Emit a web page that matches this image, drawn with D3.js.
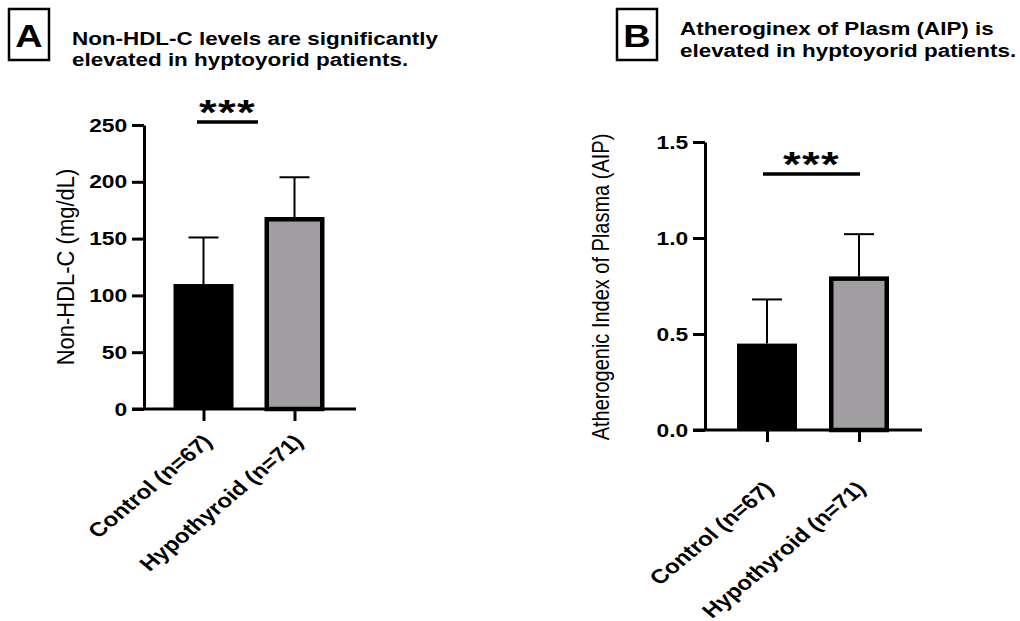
<!DOCTYPE html>
<html>
<head>
<meta charset="utf-8">
<script src="https://cdn.jsdelivr.net/npm/d3@7"></script>
<style>
  body { margin: 0; background: #fff; }
  text { font-family: "Liberation Sans", Arial, sans-serif; fill: #000; }
</style>
</head>
<body>
<script>
// groups and values (mean + SD)
var groups = ["Control (n=67)", "Hypothyroid (n=71)"];
var nonHdlMean = [110, 169];
var nonHdlSd = [41, 35];
var aipMean = [0.45, 0.80];
var aipSd = [0.23, 0.22];
var nonHdlTicks = [0, 50, 100, 150, 200, 250];
var aipTicks = [0, 0.5, 1.0, 1.5];
var barFills = ["#000000", "#a19ea2"];
var titleA = ["Non-HDL-C levels are significantly", "elevated in hyptoyorid patients."];
var titleB = ["Atheroginex of Plasm (AIP) is", "elevated in hyptoyorid patients."];
var sigLabel = "***";

// the picture is a bit stretched sideways, so text is too
var sx = 1.2;

var svg = d3.select("body").append("svg")
    .attr("width", 1020)
    .attr("height", 621);

function drawPanel(p) {
  var g = svg.append("g");

  // letter box
  g.append("rect")
      .attr("x", p.box[0]).attr("y", 9)
      .attr("width", 40).attr("height", 51)
      .attr("fill", "none").attr("stroke", "#000").attr("stroke-width", 2.5);
  g.append("text")
      .attr("transform", "translate(" + (p.box[0] + 20) + ",47) scale(1.22,1)")
      .attr("text-anchor", "middle")
      .style("font-size", "31px").style("font-weight", "bold")
      .text(p.letter);

  // two line title
  p.title.forEach(function(t, i) {
    g.append("text")
        .attr("transform", "translate(" + p.titleX + "," + p.titleY[i] + ") scale(1.18,1)")
        .style("font-size", "19px").style("font-weight", "bold")
        .text(t);
  });

  var y = d3.scaleLinear().domain(p.domain).range([p.y0, p.y1]);
  var x = d3.scalePoint().domain(groups).range(p.xr);

  // y axis
  var yAxis = g.append("g")
      .attr("transform", "translate(" + p.axisX + ",0)")
      .call(d3.axisLeft(y).tickValues(p.ticks).tickSize(12).tickSizeOuter(0)
            .tickPadding(2).tickFormat(p.fmt));
  yAxis.select(".domain").attr("stroke-width", 3);
  yAxis.selectAll(".tick line").attr("stroke-width", 3);
  yAxis.selectAll(".tick text")
      .attr("transform", "scale(" + sx + ",1)")
      .style("font-size", "19px").style("font-weight", "bold")
      .style("font-family", "Liberation Sans, Arial, sans-serif");

  // x axis: base line plus the category ticks
  g.append("line")
      .attr("x1", p.axisX - 12).attr("x2", p.xEnd)
      .attr("y1", y(0)).attr("y2", y(0))
      .attr("stroke", "#000").attr("stroke-width", 3);

  var data = groups.map(function(d, i) {
    return {name: d, mean: p.mean[i], sd: p.sd[i], fill: barFills[i]};
  });

  // bars
  var bw = 60, sw = 4.5;
  g.selectAll(".bar").data(data).enter().append("rect")
      .attr("class", "bar")
      .attr("x", function(d, i) { return x(d.name) - bw / 2 + (i ? sw / 2 : 0); })
      .attr("y", function(d, i) { return y(d.mean) + (i ? sw / 2 : 0); })
      .attr("width", function(d, i) { return i ? bw - sw : bw; })
      .attr("height", function(d, i) { return y(0) - y(d.mean) - (i ? sw / 2 : 0); })
      .attr("fill", function(d) { return d.fill; })
      .attr("stroke", function(d, i) { return i ? "#000" : "none"; })
      .attr("stroke-width", sw);

  // error bars (upper only)
  g.selectAll(".err").data(data).enter().append("line")
      .attr("x1", function(d) { return x(d.name); })
      .attr("x2", function(d) { return x(d.name); })
      .attr("y1", function(d) { return y(d.mean); })
      .attr("y2", function(d) { return y(d.mean + d.sd); })
      .attr("stroke", "#000").attr("stroke-width", 2);
  g.selectAll(".cap").data(data).enter().append("line")
      .attr("x1", function(d) { return x(d.name) - 15; })
      .attr("x2", function(d) { return x(d.name) + 15; })
      .attr("y1", function(d) { return y(d.mean + d.sd); })
      .attr("y2", function(d) { return y(d.mean + d.sd); })
      .attr("stroke", "#000").attr("stroke-width", 2);

  var xAxis = g.append("g")
      .attr("transform", "translate(0," + y(0) + ")")
      .call(d3.axisBottom(x).tickSize(12).tickFormat(""));
  xAxis.select(".domain").remove();
  xAxis.selectAll(".tick line").attr("stroke-width", 3);

  // rotated category labels
  g.selectAll(".cat").data(groups).enter().append("text")
      .attr("class", "cat")
      .attr("text-anchor", "end")
      .attr("transform", function(d) {
        return "translate(" + (x(d) + p.labelDx) + "," + (y(0) + p.labelDy) + ") scale(" + sx + ",1) rotate(-45)";
      })
      .style("font-size", "20px").style("font-weight", "bold")
      .text(function(d) { return d; });

  // y title
  g.append("text")
      .attr("text-anchor", "middle")
      .attr("transform", "translate(" + p.yLab[0] + "," + p.yLab[1] + ") scale(" + p.yLabSx + ",1) rotate(-90)")
      .style("font-size", p.yLabSize + "px")
      .text(p.yTitle);

  // significance bar
  g.append("line")
      .attr("x1", p.sig[0]).attr("x2", p.sig[1])
      .attr("y1", p.sig[2]).attr("y2", p.sig[2])
      .attr("stroke", "#000").attr("stroke-width", 3.5);
  g.append("text")
      .attr("text-anchor", "middle")
      .attr("transform", "translate(" + ((p.sig[0] + p.sig[1]) / 2) + "," + (p.sig[2] + 2) + ") scale(1.3,1)")
      .style("font-size", "35px").style("font-weight", "bold")
      .style("letter-spacing", "1px")
      .text(sigLabel);
}

drawPanel({
  letter: "A", box: [9], title: titleA, titleX: 72, titleY: [45, 66],
  domain: [0, 250], y0: 409, y1: 125, ticks: nonHdlTicks, fmt: d3.format("d"),
  axisX: 144, xr: [203.5, 294.5], xEnd: 356,
  mean: nonHdlMean, sd: nonHdlSd, labelDx: 10, labelDy: 34,
  yTitle: "Non-HDL-C (mg/dL)", yLab: [74, 267], yLabSize: 22, yLabSx: 1.1,
  sig: [197, 258, 122]
});

drawPanel({
  letter: "B", box: [617], title: titleB, titleX: 680, titleY: [35, 57],
  domain: [0, 1.5], y0: 430, y1: 142, ticks: aipTicks, fmt: d3.format(".1f"),
  axisX: 705, xr: [767, 859], xEnd: 922,
  mean: aipMean, sd: aipSd, labelDx: 8, labelDy: 60,
  yTitle: "Atherogenic Index of Plasma (AIP)", yLab: [609, 287], yLabSize: 20, yLabSx: 1.2,
  sig: [763, 860, 174]
});
</script>
</body>
</html>
